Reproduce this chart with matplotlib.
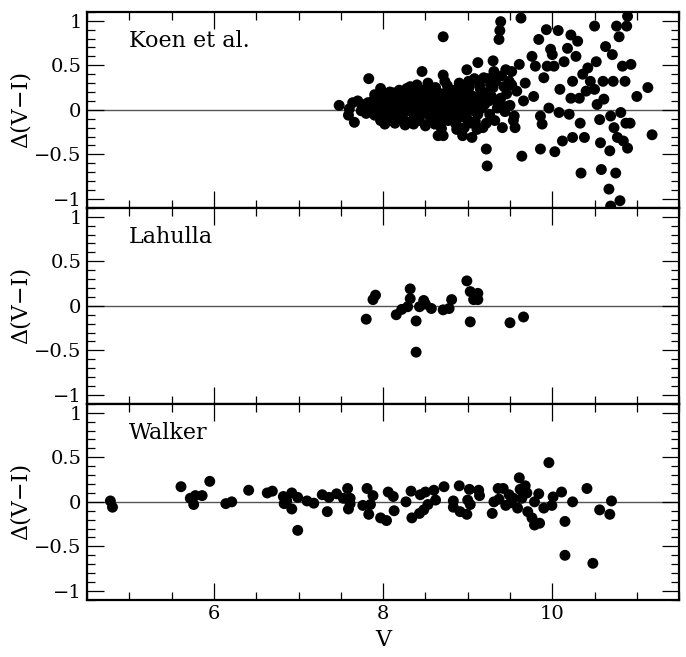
import matplotlib
matplotlib.use("Agg")
import matplotlib.pyplot as plt
from matplotlib.ticker import MultipleLocator, FuncFormatter

plt.rcParams['font.family'] = ['DejaVu Serif']
plt.rcParams['mathtext.fontset'] = 'dejavuserif'

# ---------------- data ----------------
koen_v = [7.48, 7.60, 7.59, 7.66, 7.64, 7.70, 7.75, 7.74, 7.83, 7.84, 7.88, 7.90, 7.97, 7.96, 7.97,
          8.02, 8.06, 8.10, 8.12, 8.14, 8.08, 8.20, 8.24, 8.26, 8.28, 8.32, 8.34, 8.36, 8.36, 8.40,
          8.40, 8.42, 8.46, 8.48, 8.51, 8.55, 8.56, 8.61, 8.61, 8.65, 8.67, 8.69, 8.71, 8.71, 8.71,
          8.73, 8.75, 8.77, 8.79, 8.81, 8.83, 8.85, 8.87, 8.89, 8.91, 8.94, 8.95, 8.97, 8.99, 9.00,
          9.01, 9.03, 9.05, 9.07, 9.09, 9.11, 9.12, 9.13, 9.15, 9.17, 9.19, 9.21, 9.22, 9.23, 9.22,
          9.25, 9.27, 9.30, 9.31, 9.33, 9.35, 9.39, 9.38, 9.37, 9.39, 9.41, 9.43, 9.45, 9.47, 9.49,
          9.52, 9.55, 9.56, 9.58, 9.61, 9.63, 9.64, 9.66, 9.68, 9.76, 9.78, 9.80, 9.84, 9.86, 9.86,
          9.88, 9.90, 9.93, 9.94, 9.96, 9.98, 10.00, 10.02, 10.03, 10.07, 10.08, 10.09, 10.12, 10.14,
          10.18, 10.20, 10.22, 10.22, 10.24, 10.24, 10.28, 10.30, 10.32, 10.33, 10.34, 10.36, 10.38,
          10.40, 10.42, 10.45, 10.50, 10.50, 10.52, 10.53, 10.56, 10.57, 10.58, 10.60, 10.61, 10.63,
          10.67, 10.69, 10.68, 10.69, 10.71, 10.72, 10.73, 10.75, 10.76, 10.77, 10.79, 10.80, 10.81,
          10.83, 10.84, 10.86, 10.87, 10.88, 10.89, 10.89, 10.92, 10.93, 11.00, 11.13, 11.18,
          7.78, 7.80, 7.82, 7.86, 7.90, 7.92, 7.94, 7.98, 8.00, 8.02, 8.04, 8.06, 8.08, 8.10, 8.12,
          8.14, 8.16, 8.18, 8.19, 8.21, 8.23, 8.25, 8.27, 8.29, 8.30, 8.31, 8.33, 8.35, 8.37, 8.38,
          8.39, 8.41, 8.43, 8.44, 8.46, 8.47, 8.49, 8.50, 8.52, 8.53, 8.54, 8.56, 8.58, 8.59, 8.60,
          8.62, 8.63, 8.64, 8.66, 8.68, 8.69, 8.70, 8.72, 8.74, 8.76, 8.77, 8.78, 8.80, 8.82, 8.84,
          8.85, 8.86, 8.88, 8.90, 8.92, 8.93, 8.95, 8.96, 8.98, 9.00, 9.02, 9.04, 9.05, 9.06, 9.08,
          9.10, 9.12, 9.14, 9.16, 9.18, 9.20, 9.24, 9.26, 9.28, 9.30, 9.32, 9.36, 9.40, 9.44, 9.46,
          9.50, 9.52, 9.54]
koen_d = [0.05, 0.01, -0.06, -0.14, 0.08, 0.10, 0.06, -0.01, 0.35, -0.01, 0.10, 0.17, 0.24, 0.04, -0.12,
          -0.16, 0.10, 0.02, 0.19, -0.15, -0.05, 0.13, 0.02, -0.17, 0.24, 0.26, 0.10, -0.03, -0.16, 0.28,
          0.06, -0.05, 0.43, 0.12, 0.02, 0.26, -0.13, 0.15, -0.16, -0.29, 0.00, -0.21, 0.82, 0.39, -0.29,
          0.32, 0.10, 0.21, -0.05, 0.06, 0.13, -0.11, -0.22, 0.23, 0.02, -0.29, 0.26, 0.10, 0.45, -0.11,
          0.32, 0.17, -0.31, -0.01, -0.13, -0.22, 0.53, 0.10, 0.23, 0.02, 0.36, 0.19, -0.44, -0.63, -0.15,
          0.10, 0.28, 0.55, 0.43, 0.32, 0.02, 0.99, 0.89, 0.79, 0.13, -0.20, 0.26, 0.45, 0.04, 0.32,
          0.43, -0.07, -0.20, 0.21, 0.51, 1.03, -0.52, 0.10, 0.30, 0.60, 0.15, 0.49, 0.79, -0.07, -0.44,
          -0.16, 0.36, 0.90, 0.49, 0.02, 0.68, 0.62, 0.49, -0.47, 0.89, -0.03, 0.23, -0.35, 0.54,
          0.69, -0.05, 0.84, 0.13, 0.32, -0.31, 0.60, 0.77, 0.13, -0.15, -0.71, 0.40, -0.31,
          0.21, 0.47, 0.32, 0.94, 0.23, 0.54, 0.06, -0.11, -0.37, -0.67, 0.32, 0.12, 0.71,
          -0.89, -1.08, -0.46, -0.07, 0.62, 0.32, -0.20, -0.71, 0.94, -0.31, 0.82, -1.02, -0.03,
          0.49, -0.35, 0.32, -0.15, 0.94, 1.05, -0.43, -0.15, 0.51, 0.15, 0.25, -0.28,
          0.03, -0.04, 0.08, 0.02, -0.06, 0.05, 0.13, -0.02, 0.07, 0.15, -0.08, 0.02, 0.20, -0.12, 0.08,
          0.00, 0.12, -0.06, 0.22, 0.05, -0.10, 0.15, -0.02, 0.08, -0.14, 0.18, 0.03, 0.12, -0.08, 0.20,
          0.00, 0.14, -0.12, 0.07, 0.22, -0.03, 0.17, -0.18, 0.09, 0.30, -0.06, 0.04, 0.20, -0.10, 0.08,
          0.25, -0.02, 0.14, -0.13, 0.05, 0.18, -0.08, 0.12, 0.02, 0.27, -0.12, 0.16, 0.08, -0.02, 0.22,
          0.04, -0.16, 0.15, 0.30, -0.08, 0.12, 0.04, -0.20, 0.20, 0.00, 0.26, 0.08, -0.15, 0.15, 0.35,
          0.05, -0.05, 0.28, 0.14, -0.20, 0.06, 0.35, -0.05, 0.15, 0.25, -0.12, 0.08, 0.38, -0.02, 0.18,
          0.05, 0.28, -0.12]

lahulla_v = [7.80, 7.88, 7.91, 8.155, 8.22, 8.29, 8.32, 8.32, 8.39, 8.39, 8.43, 8.48, 8.50, 8.57,
             8.71, 8.78, 8.81, 8.99, 9.03, 9.03, 9.07, 9.12, 9.12, 9.50, 9.66]
lahulla_d = [-0.15, 0.07, 0.12, -0.10, -0.04, -0.01, 0.19, 0.08, -0.17, -0.52, -0.01, 0.06, 0.02, -0.03,
             -0.045, -0.03, 0.07, 0.28, 0.16, -0.18, 0.07, 0.14, 0.07, -0.19, -0.125]

walker_v = [4.775, 4.80, 5.61, 5.72, 5.76, 5.78, 5.86, 5.95, 6.14, 6.21, 6.41, 6.63, 6.69, 6.82, 6.83,
            6.86, 6.92, 6.92, 6.99, 6.99, 7.10, 7.18, 7.28, 7.34, 7.36, 7.45, 7.53, 7.58, 7.59, 7.61,
            7.61, 7.76, 7.81, 7.83, 7.85, 7.88, 7.97, 8.04, 8.06, 8.12, 8.13, 8.27, 8.33, 8.34, 8.43,
            8.44, 8.48, 8.50, 8.53, 8.60, 8.62, 8.72, 8.83, 8.83, 8.90, 8.91, 8.99, 9.00, 9.02, 9.03,
            9.13, 9.14, 9.29, 9.31, 9.36, 9.37, 9.42, 9.45, 9.49, 9.51, 9.54, 9.59, 9.61, 9.62, 9.64,
            9.68, 9.70, 9.71, 9.76, 9.79, 9.79, 9.85, 9.84, 9.90, 9.96, 9.995, 10.01, 10.11, 10.15,
            10.15, 10.24, 10.41, 10.48, 10.56, 10.68, 10.70]
walker_d = [0.01, -0.06, 0.17, 0.04, -0.03, 0.07, 0.07, 0.23, -0.02, 0.00, 0.13, 0.10, 0.12, 0.06, -0.02,
            0.01, 0.10, -0.08, 0.05, -0.32, 0.01, -0.015, 0.08, -0.11, 0.05, 0.09, 0.04, 0.15, -0.08, 0.04,
            -0.02, -0.04, 0.15, -0.14, -0.03, 0.07, -0.18, -0.21, 0.11, 0.06, -0.10, 0.00, 0.12, -0.18, -0.13,
            0.08, -0.09, 0.11, -0.03, 0.13, 0.02, 0.17, 0.01, -0.06, 0.18, -0.11, -0.14, 0.02, 0.14, -0.03,
            0.13, 0.07, -0.13, 0.00, 0.15, 0.03, 0.15, -0.04, 0.08, -0.01, 0.04, -0.07, 0.27, 0.14, 0.04,
            0.18, 0.10, -0.11, -0.18, 0.00, -0.26, -0.24, 0.09, -0.07, 0.44, -0.04, 0.055, 0.11, -0.22,
            -0.60, 0.00, 0.15, -0.69, -0.09, -0.14, 0.01]

panels = [("Koen et al.", koen_v, koen_d),
          ("Lahulla", lahulla_v, lahulla_d),
          ("Walker", walker_v, walker_d)]

# ---------------- figure ----------------
fig = plt.figure(figsize=(6.86, 6.57), dpi=100)
gs = fig.add_gridspec(3, 1, left=0.127, right=0.990, top=0.982, bottom=0.087, hspace=0)
fs = 16
tfs = 14

def yfmt(v, pos):
    if abs(v) < 1e-9:
        return "0"
    s = ("%g" % v)
    return s.replace("-", "\u2212")

axes = []
for i, (name, xv, yv) in enumerate(panels):
    ax = fig.add_subplot(gs[i, 0])
    axes.append(ax)
    ax.axhline(0, color="#555555", lw=1.0, zorder=1)
    ax.scatter(xv, yv, s=62, color="black", edgecolors="none", zorder=3)
    ax.set_xlim(4.5, 11.5)
    ax.set_ylim(-1.1, 1.1)
    ax.xaxis.set_major_locator(MultipleLocator(2))
    ax.xaxis.set_minor_locator(MultipleLocator(0.5))
    ax.yaxis.set_major_locator(MultipleLocator(0.5))
    ax.yaxis.set_minor_locator(MultipleLocator(0.1))
    ax.yaxis.set_major_formatter(FuncFormatter(yfmt))
    ax.tick_params(which="both", direction="in", top=True, right=True, labelsize=tfs, width=0.9)
    ax.tick_params(which="major", length=12, pad=4)
    ax.tick_params(which="minor", length=6)
    for sp in ax.spines.values():
        sp.set_linewidth(1.6)
    ax.set_ylabel("\u0394(V\u2212I)", fontsize=fs, labelpad=2)
    ax.text(0.07, 0.85, name, transform=ax.transAxes, fontsize=fs, ha="left", va="center")
    if i < 2:
        ax.tick_params(labelbottom=False)

axes[-1].set_xlabel("V", fontsize=fs, labelpad=4)

fig.savefig("out.png", dpi=100)
